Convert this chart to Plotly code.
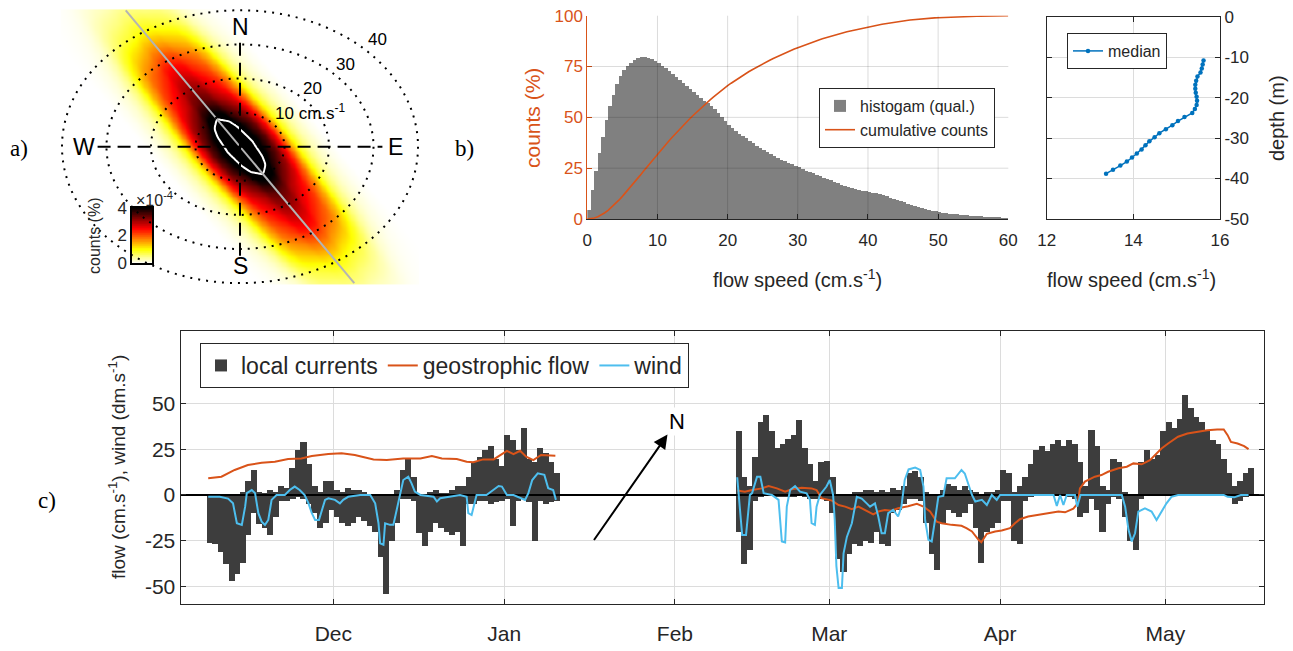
import numpy as np
import pandas as pd
import plotly.graph_objects as go

FIG_W, FIG_H = 1293, 651
FONT = "Liberation Sans, Arial, sans-serif"
SERIF = "Liberation Serif, Times New Roman, serif"
TXT = "#262626"
ORANGE = "#D95319"
BLUE = "#0072BD"
CYAN = "#4DBEEE"
DARK = "#3d3d3d"
HISTGREY = "#808080"
GRID = "#dcdcdc"
GRID_ALPHA = "rgba(0,0,0,0.14)"


def fx(p):
    return p / FIG_W


def fy(p):
    return 1 - p / FIG_H


# ---------------------------------------------------------------- data
# panel a : density (x1e-4 %) profiles read along / across the principal axis
along_dist = [0, 5, 9.6, 15.6, 22, 28, 34, 40, 45, 50, 55, 60, 65]
along_val = [5.0, 4.8, 4.3, 3.5, 3.0, 2.5, 1.75, 1.0, 0.62, 0.35, 0.17, 0.05, 0.0]
across_dist = [0, 2, 3.2, 5, 6.3, 8.4, 10, 11, 12.5, 13.9, 16, 18]
across_fac = [1.0, 0.95, 0.86, 0.77, 0.70, 0.50, 0.30, 0.20, 0.11, 0.06, 0.02, 0.0]
principal_bearing = 147.3     # deg, clockwise from North
core_level = 4.3
ring_speeds = [10, 20, 30, 40]
ring_labels = ["10 cm.s<sup>-1</sup>", "20", "30", "40"]
cbar_ticks = [0, 2, 4]

# panel b : histogram (qualitative), 0.5 cm/s bins from 0 to 60
hist_counts = [
    4.4, 14.6, 23.8, 32.6, 40.5, 48.7, 55.6, 61.0, 66.4, 70.3,
    73.3, 75.2, 76.9, 78.5, 79.5, 80.0, 79.8, 79.5, 78.7, 77.7,
    76.7, 75.6, 74.3, 72.9, 71.4, 70.0, 68.5, 67.0, 65.5, 64.0,
    62.5, 61.0, 59.7, 58.4, 57.1, 55.7, 54.2, 52.5, 50.5, 48.5,
    46.5, 44.8, 43.4, 42.2, 41.0, 39.8, 38.6, 37.4, 36.2, 35.0,
    33.9, 32.9, 31.9, 31.0, 30.1, 29.3, 28.5, 27.8, 27.0, 26.3,
    25.5, 24.8, 24.0, 23.3, 22.6, 21.9, 21.2, 20.5, 19.8, 19.1,
    18.4, 17.7, 17.0, 16.4, 15.8, 15.3, 14.8, 14.4, 14.0, 13.7,
    13.4, 13.1, 12.7, 12.3, 11.8, 11.3, 10.7, 10.1, 9.5, 8.9,
    8.3, 7.7, 7.1, 6.6, 6.1, 5.6, 5.1, 4.7, 4.3, 3.9,
    3.6, 3.3, 3.0, 2.8, 2.6, 2.4, 2.2, 2.0, 1.9, 1.8,
    1.6, 1.5, 1.4, 1.3, 1.2, 1.1, 1.0, 0.9, 0.8, 0.7,
]
bin_width = 0.5
speed_ticks = [0, 10, 20, 30, 40, 50, 60]
count_ticks = [0, 25, 50, 75, 100]

# panel b right : median speed profile
median_depth = [-10.8, -11.8, -12.8, -13.8, -14.8, -15.8, -16.8, -17.8, -18.8, -19.8,
                -20.8, -21.8, -22.8, -23.8, -24.8, -25.8, -26.8, -27.8, -28.8, -29.8,
                -30.8, -31.8, -32.8, -33.8, -34.8, -35.8, -36.8, -37.8, -38.8]
median_speed = [15.62, 15.60, 15.58, 15.55, 15.48, 15.45, 15.43, 15.43, 15.44, 15.46,
                15.47, 15.46, 15.42, 15.36, 15.18, 15.03, 14.90, 14.75, 14.60, 14.49,
                14.37, 14.28, 14.19, 14.08, 13.97, 13.85, 13.70, 13.53, 13.37]
depth_ticks = [0, -10, -20, -30, -40, -50]
profile_speed_ticks = [12, 14, 16]

# panel c : daily extremes of local currents (cm/s)
ref_date = "2014-12-01"
cur1_start = "2014-11-08"
cur1_hi = [0, 0, 0, 0, 0, 0, 2, 8, 14, 2,
           1, 3, 2, 5, 4, 15, 25, 29, 17, 5,
           2, 8, 8, 3, 2, 4, 3, 3, 2, 0,
           0, 0, 0, 0, 3, 14, 20, 10, 0, 0,
           2, 3, 1, 1, 3, 5, 5, 10, 18, 21,
           25, 27, 20, 16, 33, 30, 25, 37, 20, 18,
           26, 23, 18, 12]
cur1_lo = [-26, -27, -31, -38, -47, -43, -37, -22, -10, -16,
           -18, -22, -12, -3, -3, -2, -1, -2, -5, -10,
           -18, -15, -8, -12, -15, -17, -15, -12, -14, -17,
           -20, -34, -54, -25, -15, -2, -2, -3, -21, -28,
           -20, -15, -18, -20, -22, -20, -28, -5, -5, -3,
           -3, -5, -4, -3, -2, -17, -3, -2, -4, -25,
           -3, -5, -4, -3]
cur2_start = "2015-02-12"
cur2_hi = [35, 10, 5, 21, 40, 44, 35, 26, 28, 31,
           33, 41, 26, 17, 8, 18, 19, 10, 0, 0,
           0, 2, 2, 3, 3, 2, 3, 2, 4, 3,
           5, 12, 13, 10, 2, 0, 0, 3, 6, 5,
           3, 5, 3, 2, 0, 2, 2, 3, 14, 12,
           2, 5, 10, 17, 25, 27, 24, 28, 30, 27,
           30, 28, 18, 5, 36, 27, 5, 3, 20, 18,
           2, 0, 0, 18, 25, 20, 22, 35, 40, 37,
           42, 55, 48, 43, 40, 36, 30, 28, 20, 12,
           5, 8, 12, 15]
cur2_lo = [-20, -38, -30, -3, -1, 0, 0, -1, -1, -1,
           -1, 0, -1, -2, -2, -2, -3, -10, -35, -42,
           -32, -27, -28, -25, -26, -20, -27, -28, -10, -8,
           -5, -2, -2, -3, -15, -32, -41, -15, -8, -10,
           -12, -10, -5, -18, -37, -20, -18, -15, -3, -3,
           -25, -27, -3, -1, 0, 0, 0, 0, 0, 0,
           -1, -2, -12, -10, -2, -8, -20, -5, -1, -2,
           -12, -25, -30, -2, 0, 0, 0, 0, 0, 0,
           0, 0, 0, 0, 0, 0, 0, 0, 0, -1,
           -5, -3, -1, 0]

# geostrophic flow (days since ref_date, cm/s)
geo1_day = [-22.7, -20.3, -17.9, -15.5, -13.0, -10.6, -8.2, -5.8, -3.9, -0.9,
            1.5, 3.9, 7.3, 9.7, 12.7, 15.8, 17.9, 19.7, 22.4, 24.2,
            25.4, 27.2, 29.1, 30.3, 31.5, 32.7, 33.9, 35.0, 36.3, 37.7, 40.3]
geo1_val = [9.1, 10.0, 13.7, 16.4, 17.7, 18.2, 19.7, 20.0, 21.3, 22.4,
            22.8, 21.9, 19.5, 19.1, 20.0, 20.0, 21.3, 20.0, 19.7, 18.2,
            18.0, 19.5, 19.5, 21.9, 24.2, 22.4, 24.2, 21.0, 19.1, 21.9, 21.5]
geo2_day = [73.3, 74.7, 76.0, 77.8, 79.0, 80.5, 82.0, 83.2, 85.0, 86.8,
            87.7, 88.6, 90.5, 91.7, 92.9, 94.1, 95.3, 96.5, 98.0, 98.9,
            100.1, 101.3, 102.5, 104.3, 105.9, 107.1, 108.3, 109.5, 110.4, 112.2,
            114.0, 114.9, 115.9, 117.1, 117.6, 118.6, 120.1, 121.3, 122.8, 123.7,
            124.6, 126.1, 128.0, 129.8, 131.6, 132.8, 134.3, 135.1, 135.5, 136.4,
            138.2, 139.4, 140.6, 142.5, 144.0, 145.2, 146.7, 148.2, 149.1, 150.3,
            151.5, 153.3, 155.0, 156.8, 158.6, 160.4, 161.6, 162.3, 162.9, 164.1,
            165.3, 166.1]
geo2_val = [2.4, 1.8, 2.7, 3.6, 4.9, 3.6, 1.8, 3.1, 4.0, 3.6,
            2.7, -1.8, -3.1, -5.5, -6.4, -7.8, -6.4, -8.2, -10.6, -9.1,
            -8.2, -8.6, -7.3, -6.2, -4.9, -6.4, -9.1, -14.6, -15.5, -16.4,
            -16.9, -18.2, -20.0, -24.6, -25.9, -21.3, -20.0, -19.5, -18.2, -15.5,
            -13.3, -11.8, -10.9, -10.0, -9.1, -9.5, -7.5, -4.6, 3.6, 7.3,
            10.0, 10.9, 12.7, 14.6, 15.5, 17.3, 16.8, 19.1, 21.9, 25.5,
            28.2, 31.9, 33.7, 34.6, 35.5, 35.9, 35.9, 32.8, 29.1, 28.2,
            26.8, 25.1]

# wind (days since ref_date, dm/s)
wind1_day = [-22.7, -20.6, -19.1, -18.2, -17.5, -16.6, -16.0, -15.7, -14.8, -14.2,
             -13.6, -13.0, -12.4, -11.8, -11.2, -10.3, -8.8, -7.9, -7.0, -6.1,
             -5.2, -4.5, -3.9, -3.3, -2.6, -2.1, -1.5, -0.9, 0.3, 1.2,
             1.8, 2.7, 4.9, 6.7, 7.6, 8.2, 8.5, 9.1, 9.4, 10.3,
             10.9, 11.5, 12.1, 12.7, 13.6, 14.2, 14.8, 15.8, 18.2, 18.8,
             19.4, 21.2, 23.0, 24.2, 24.5, 25.1, 25.7, 26.0, 27.8, 29.1,
             30.0, 30.6, 31.5, 32.7, 33.9, 34.8, 35.4, 36.1, 37.1, 38.3,
             39.0, 39.9, 40.4]
wind1_val = [-1, -1, -2, -4.6, -15.5, -16.4, -6.4, 1, 2.7, 1,
             -10, -14.6, -16.4, -13.7, -2.7, 0, 0, 2.7, 4.6, 2.7,
             0, -4.6, -10, -13.7, -13.7, -9.1, -2.7, -1.8, -2.7, -4.6,
             -2.7, -1, 0, 0, -4.6, -15.5, -26.5, -27.3, -15.5, -16.4,
             -16.4, -8.2, 0, 8.2, 10, 6.4, 1.8, 0, -1, -3.6,
             -1.8, -1, 0, -1, -10, -11, -2.7, 0, 0, 2.7,
             4.9, 4.6, 0, 0, -1.8, -2.7, 1, 8.2, 11.9, 11,
             3.7, 2.7, -2.7]
wind2_day = [73.3, 73.9, 74.2, 74.9, 75.6, 76.0, 76.9, 77.5, 78.1, 79.6,
             80.8, 81.4, 82.0, 82.3, 82.9, 83.8, 84.7, 85.9, 86.5, 86.8,
             87.4, 87.7, 88.3, 89.5, 90.1, 90.7, 91.0, 91.3, 91.7, 92.3,
             92.6, 93.2, 94.1, 95.0, 95.9, 96.8, 97.4, 98.3, 98.9, 99.5,
             100.1, 100.7, 101.6, 102.5, 103.1, 103.7, 104.4, 105.6, 106.5, 107.1,
             107.4, 108.0, 108.6, 109.2, 109.8, 110.7, 111.3, 112.8, 114.0, 114.6,
             115.2, 115.9, 116.5, 117.7, 118.6, 119.5, 120.4, 121.0, 130.7, 131.3,
             131.9, 132.5, 133.1, 134.6, 135.0, 135.6, 143.1, 143.7, 144.3, 144.9,
             145.5, 146.1, 147.3, 148.5, 149.4, 150.3, 151.2, 152.1, 153.3, 161.6,
             162.3, 163.5, 164.7, 166.1]
wind2_val = [9.7, -14, -22, -22, 0, 1, 10, 10, 1, 0,
             -2.7, -25.5, -26, -6.4, 2.7, 4.9, 1.8, 0.9, -2.7, -15.5,
             -16.4, -6.4, 0, 4.6, 8.2, 0, -13.7, -39, -51, -51,
             -32, -23, -15.5, -1, -2, -4.6, -6.4, -4.6, -11.8, -21,
             -21, -10, -8.2, -11.8, -6.4, 8.2, 14, 15, 13.7, 4.6,
             -13.7, -24.6, -25.5, -13.7, -1, -0.5, 9.1, 9.1, 13.7, 11.8,
             6.4, 0, -3.6, -2.7, -5.5, 0, -2.7, 0, 0, -6,
             0, -5.5, 0, 0, -6.4, 0, 0, -6.4, -19, -25.5,
             -21, -9.1, -7.3, -9.1, -13.7, -9.1, -4.6, -1, 0, 0,
             -1, -1.3, 0, 0]

flow_ticks = [-50, -25, 0, 25, 50]
month_ticks = ["2014-12-01", "2015-01-01", "2015-02-01", "2015-03-01", "2015-04-01", "2015-05-01"]
time_range_days = [-27.73, 168.9]

# ---------------------------------------------------------------- figure
fig = go.Figure()

# ---- panel a : density map
grid = np.arange(-40, 40.01, 0.5)
GX, GY = np.meshgrid(grid, grid)
th = np.deg2rad(principal_bearing)
ux, uy = np.sin(th), np.cos(th)
along = GX * ux + GY * uy
across = -GX * uy + GY * ux
dens = np.interp(np.abs(along), along_dist, along_val) * np.interp(np.abs(across), across_dist, across_fac)

hot_r = [[0.0, "#ffffff"], [0.25, "#ffff00"], [0.625, "#ff0000"], [1.0, "#000000"]]
fig.add_trace(go.Heatmap(x=grid, y=grid, z=dens, zmin=0, zmax=4, colorscale=hot_r,
                         showscale=False, zsmooth="best", hoverinfo="skip",
                         xaxis="x", yaxis="y", showlegend=False))
fig.add_trace(go.Contour(x=grid, y=grid, z=dens,
                         contours=dict(start=core_level, end=core_level, size=1, coloring="lines"),
                         colorscale=[[0, "white"], [1, "white"]], line=dict(width=2),
                         showscale=False, hoverinfo="skip", xaxis="x", yaxis="y", showlegend=False))
t_end = 40 / abs(uy)
fig.add_trace(go.Scatter(x=[-t_end * ux, t_end * ux], y=[-t_end * uy, t_end * uy], mode="lines",
                         line=dict(color="#b4b4b4", width=2), hoverinfo="skip",
                         xaxis="x", yaxis="y", showlegend=False))

# colour bar as its own little axes
cb_vals = np.linspace(cbar_ticks[0], cbar_ticks[-1], 81)
fig.add_trace(go.Heatmap(x=[0], y=cb_vals, z=[[v] for v in cb_vals], zmin=0, zmax=4,
                         colorscale=hot_r, showscale=False, hoverinfo="skip",
                         xaxis="x2", yaxis="y2", showlegend=False))

# ---- panel b : histogram + cumulative
bin_centers = np.arange(len(hist_counts)) * bin_width + bin_width / 2
bin_edges = np.arange(len(hist_counts) + 1) * bin_width
cum = np.concatenate([[0.0], np.cumsum(hist_counts)])
cum = cum / cum[-1] * 100
fig.add_trace(go.Bar(x=bin_centers, y=hist_counts, width=bin_width, marker=dict(color=HISTGREY, line=dict(width=0)),
                     name="histogam (qual.)", xaxis="x3", yaxis="y3", legend="legend"))
fig.add_trace(go.Scatter(x=bin_edges, y=cum, mode="lines", line=dict(color=ORANGE, width=1.6),
                         name="cumulative counts", xaxis="x3", yaxis="y3", legend="legend", cliponaxis=False))

# ---- panel b right : median profile
fig.add_trace(go.Scatter(x=median_speed, y=median_depth, mode="lines+markers",
                         line=dict(color=BLUE, width=1.5), marker=dict(size=4.5, color=BLUE),
                         name="median", xaxis="x4", yaxis="y4", legend="legend2"))

# ---- panel c : time series
ref = pd.Timestamp(ref_date)
day_ms = 86400000


def day_centres(start, n):
    return pd.date_range(start, periods=n, freq="D") + pd.Timedelta(hours=12)


def days_to_dates(days):
    return ref + pd.to_timedelta(np.asarray(days, dtype=float), unit="D")


bar_x = list(day_centres(cur1_start, len(cur1_hi))) + list(day_centres(cur2_start, len(cur2_hi)))
bar_hi = cur1_hi + cur2_hi
bar_lo = cur1_lo + cur2_lo
fig.add_trace(go.Bar(x=bar_x, y=bar_hi, width=day_ms * 1.1, marker=dict(color=DARK, line=dict(width=0)),
                     name="local currents", xaxis="x5", yaxis="y5", legend="legend3"))
fig.add_trace(go.Bar(x=bar_x, y=bar_lo, width=day_ms * 1.1, marker=dict(color=DARK, line=dict(width=0)),
                     name="local currents", showlegend=False, xaxis="x5", yaxis="y5", legend="legend3"))

t_lo, t_hi = days_to_dates(time_range_days)
fig.add_trace(go.Scatter(x=[t_lo, t_hi], y=[0, 0], mode="lines", line=dict(color="black", width=2),
                         hoverinfo="skip", showlegend=False, xaxis="x5", yaxis="y5"))

geo_x = list(days_to_dates(geo1_day)) + [None] + list(days_to_dates(geo2_day))
geo_y = geo1_val + [None] + geo2_val
fig.add_trace(go.Scatter(x=geo_x, y=geo_y, mode="lines", line=dict(color=ORANGE, width=2),
                         name="geostrophic flow", xaxis="x5", yaxis="y5", legend="legend3"))
wind_x = list(days_to_dates(wind1_day)) + [None] + list(days_to_dates(wind2_day))
wind_y = wind1_val + [None] + wind2_val
fig.add_trace(go.Scatter(x=wind_x, y=wind_y, mode="lines", line=dict(color=CYAN, width=2),
                         name="wind", xaxis="x5", yaxis="y5", legend="legend3"))

# ---------------------------------------------------------------- shapes
shapes = []
for r in ring_speeds:
    shapes.append(dict(type="circle", xref="x", yref="y", x0=-r, x1=r, y0=-r, y1=r,
                       line=dict(color="black", width=2, dash="2px,6px"), layer="above"))
cross = 32
shapes.append(dict(type="line", xref="x", yref="y", x0=-cross, x1=cross, y0=0, y1=0,
                   line=dict(color="black", width=2, dash="13px,7px")))
shapes.append(dict(type="line", xref="x", yref="y", x0=0, x1=0, y0=-cross, y1=cross,
                   line=dict(color="black", width=2, dash="13px,7px")))
# histogram grid drawn on top of the bars (MATLAB "layer top" look)
for v in speed_ticks[1:-1]:
    shapes.append(dict(type="line", xref="x3", yref="y3 domain", x0=v, x1=v, y0=0, y1=1,
                       line=dict(color=GRID_ALPHA, width=1), layer="above"))
for v in count_ticks[1:-1]:
    shapes.append(dict(type="line", xref="x3 domain", yref="y3", x0=0, x1=1, y0=v, y1=v,
                       line=dict(color=GRID_ALPHA, width=1), layer="above"))

# ---------------------------------------------------------------- annotations
ann = []


def paper_text(px_x, px_y, text, size, color=TXT, family=FONT, angle=0, xanchor="center", **kw):
    d = dict(x=fx(px_x), y=fy(px_y), xref="paper", yref="paper", text=text, showarrow=False,
             xanchor=xanchor, yanchor="middle", textangle=angle,
             font=dict(size=size, color=color, family=family))
    d.update(kw)
    return d


compass = 35
for txt, (cx, cy) in {"N": (0, compass), "S": (0, -compass), "W": (-compass, 0), "E": (compass, 0)}.items():
    ann.append(dict(x=cx, y=cy, xref="x", yref="y", text=txt, showarrow=False,
                    xanchor="center", yanchor="middle",
                    font=dict(size=23, color="black", family=FONT)))
ring_label_pos = [(7.4, 10.2, "left"), (16.4, 17.2, "center"), (23.6, 24.0, "center"), (30.8, 31.3, "center")]
for lab, (lx, ly, anc) in zip(ring_labels, ring_label_pos):
    ann.append(dict(x=lx, y=ly, xref="x", yref="y", text=lab, showarrow=False, xanchor=anc, yanchor="middle",
                    font=dict(size=17, color="black", family=FONT)))

ann.append(paper_text(94, 236, "counts (%)", 16, angle=-90))
ann.append(paper_text(134, 199, "×10<sup>-4</sup>", 16, xanchor="left"))

for lab, (lx, ly) in {"a)": (19, 149), "b)": (464, 149), "c)": (47, 500)}.items():
    ann.append(paper_text(lx, ly, lab, 23, color="black", family=SERIF))

ann.append(paper_text(797, 278, "flow speed (cm.s<sup>-1</sup>)", 20))
ann.append(paper_text(532, 118, "counts (%)", 21, color=ORANGE, angle=-90))
ann.append(paper_text(1131, 278, "flow speed (cm.s<sup>-1</sup>)", 20))
ann.append(paper_text(1277, 118, "depth (m)", 20, angle=-90))
ann.append(paper_text(117, 467, "flow (cm.s<sup>-1</sup>), wind (dm.s<sup>-1</sup>)", 19, angle=-90))

# north arrow: label "N" at the head end of an arrow whose tail sits lower-left
arrow_tail = (594, 540)
n_label = (677, 421)
ann.append(dict(x=fx(arrow_tail[0]), y=fy(arrow_tail[1]), xref="paper", yref="paper",
                text="N", showarrow=True, arrowside="start", startarrowhead=2, startarrowsize=1.4,
                arrowwidth=2, arrowcolor="black",
                ax=n_label[0] - arrow_tail[0], ay=n_label[1] - arrow_tail[1],
                bgcolor="white", font=dict(size=22, color="black", family=FONT)))

# ---------------------------------------------------------------- layout
axis_common = dict(showline=True, linecolor=TXT, linewidth=1, ticks="inside", ticklen=5, tickcolor=TXT,
                   tickfont=dict(size=17, color=TXT, family=FONT), showgrid=True, gridcolor=GRID,
                   zeroline=False, automargin=False)

fig.update_layout(
    width=FIG_W, height=FIG_H, autosize=False,
    margin=dict(l=0, r=0, t=0, b=0, pad=0, autoexpand=False),
    paper_bgcolor="white", plot_bgcolor="white",
    font=dict(family=FONT, color=TXT),
    barmode="overlay", bargap=0,
    shapes=shapes, annotations=ann,
    # panel a
    xaxis=dict(domain=[fx(55), fx(425)], range=[-41.57, 41.57], visible=False, anchor="y", automargin=False),
    yaxis=dict(domain=[fy(288.4), fy(5)], range=[-41.55, 41.55], visible=False, anchor="x", automargin=False),
    # colour bar
    xaxis2=dict(domain=[fx(132), fx(152)], range=[-0.5, 0.5], anchor="y2", showticklabels=False,
                ticks="", showline=True, mirror=True, linecolor="black", linewidth=1.5,
                showgrid=False, zeroline=False, automargin=False),
    yaxis2=dict(domain=[fy(263), fy(208)], range=[0, 4], anchor="x2", tickvals=cbar_ticks,
                ticks="", showline=True, mirror=True, linecolor="black", linewidth=1.5,
                showgrid=False, zeroline=False, automargin=False,
                tickfont=dict(size=17, color=TXT, family=FONT)),
    # panel b histogram
    xaxis3=dict(axis_common, domain=[fx(587.3), fx(1008.3)], range=[0, 60], anchor="y3",
                tickvals=speed_ticks, ticklabelstandoff=6, showgrid=False),
    yaxis3=dict(axis_common, domain=[fy(219), fy(15.7)], range=[0, 100], anchor="x3",
                tickvals=count_ticks, linecolor=ORANGE, tickcolor=ORANGE, showgrid=False,
                tickfont=dict(size=17, color=ORANGE, family=FONT)),
    # panel b profile
    xaxis4=dict(axis_common, domain=[fx(1046.7), fx(1220)], range=[12, 16], anchor="y4",
                tickvals=profile_speed_ticks, mirror="ticks", ticklabelstandoff=6),
    yaxis4=dict(axis_common, domain=[fy(219), fy(16.7)], range=[-50, 0], anchor="x4", side="right",
                tickvals=depth_ticks, ticktext=[str(v) for v in depth_ticks], mirror="ticks"),
    # panel c
    xaxis5=dict(axis_common, type="date", domain=[fx(180.5), fx(1264)], range=[t_lo, t_hi], anchor="y5",
                tickvals=month_ticks, tickformat="%b", mirror="ticks", ticklabelstandoff=10,
                tickfont=dict(size=21, color=TXT, family=FONT)),
    yaxis5=dict(axis_common, domain=[fy(604.4), fy(330.8)], range=[-60, 90], anchor="x5",
                tickvals=flow_ticks, ticktext=[str(v) for v in flow_ticks], mirror="ticks",
                tickfont=dict(size=21, color=TXT, family=FONT)),
    legend=dict(x=fx(819), y=fy(88), xanchor="left", yanchor="top", bgcolor="white",
                bordercolor=TXT, borderwidth=1, font=dict(size=16, color=TXT, family=FONT)),
    legend2=dict(x=fx(1067), y=fy(33), xanchor="left", yanchor="top", bgcolor="white",
                 bordercolor=TXT, borderwidth=1, font=dict(size=16, color=TXT, family=FONT)),
    legend3=dict(x=fx(200), y=fy(343), xanchor="left", yanchor="top", bgcolor="white",
                 orientation="h", bordercolor=TXT, borderwidth=1,
                 font=dict(size=23, color=TXT, family=FONT)),
)

# remove the browser's default 8px page margin so the figure sits at the window's corner
fig.write_html("out.html", config={"displayModeBar": False},
               post_script="document.body.style.margin='0px';")
